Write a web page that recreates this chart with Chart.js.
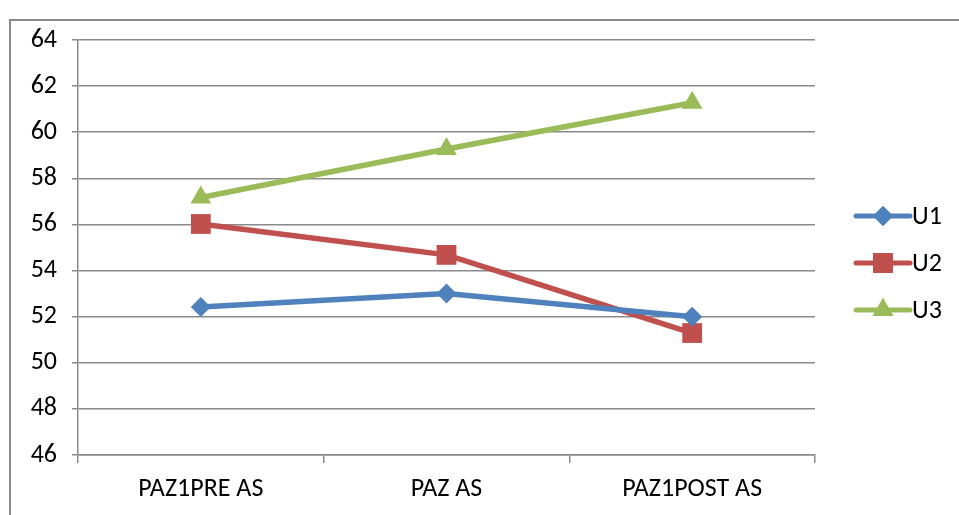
<!DOCTYPE html>
<html>
<head>
<meta charset="utf-8">
<script src="https://cdn.jsdelivr.net/npm/chart.js@4/dist/chart.umd.min.js"></script>
<style>
  html, body { margin: 0; padding: 0; background: #fff; }
  #wrap { position: relative; width: 959px; height: 515px; overflow: hidden; }
  #frame { position: absolute; left: 9px; top: 19px; width: 980px; height: 520px; border: 2px solid #8a8a8a; }
  canvas { position: absolute; left: 0; top: 0; }
</style>
</head>
<body>
<div id="wrap">
  <div id="frame"></div>
  <canvas id="chart" width="959" height="515"></canvas>
</div>
<script>
// data
const categories = ['PAZ1PRE AS', 'PAZ AS', 'PAZ1POST AS'];
const seriesNames = ['U1', 'U2', 'U3'];
const u1 = [52.42, 53.0, 52.0];
const u2 = [56.02, 54.68, 51.29];
const u3 = [57.17, 59.27, 61.28];
const yTicks = [46, 48, 50, 52, 54, 56, 58, 60, 62, 64];

const colors = ['#4F81BD', '#C0504D', '#9BBB59'];
const markers = ['rectRot', 'rect', 'triangle'];
const markerSize = [10, 14, 12];
const gridColor = '#8a8a8a';
const font = { family: 'Carlito, "Liberation Sans", Arial, sans-serif', size: 26 };

// legend on the right: line with marker in the middle, then the name
const sideLegend = {
    id: 'sideLegend',
    afterDraw(chart) {
        const ctx = chart.ctx;
        const x0 = 856, x1 = 910, ys = [216, 263, 310];
        chart.data.datasets.forEach((ds, i) => {
            const y = ys[i];
            ctx.save();
            ctx.strokeStyle = ds.borderColor;
            ctx.lineWidth = 5;
            ctx.lineCap = 'round';
            ctx.beginPath();
            ctx.moveTo(x0, y);
            ctx.lineTo(x1, y);
            ctx.stroke();
            ctx.fillStyle = ds.pointBackgroundColor;
            Chart.helpers.drawPoint(ctx, {
                pointStyle: ds.pointStyle,
                radius: ds.pointRadius,
                rotation: 0,
                borderWidth: 0
            }, (x0 + x1) / 2, y);
            ctx.fill();
            ctx.fillStyle = '#000';
            ctx.font = font.size + 'px ' + font.family;
            ctx.textBaseline = 'middle';
            ctx.fillText(ds.label, x1 + 2, y + 1);
            ctx.restore();
        });
    }
};

const datasets = [u1, u2, u3].map((values, i) => ({
    label: seriesNames[i],
    data: values,
    borderColor: colors[i],
    backgroundColor: colors[i],
    pointBackgroundColor: colors[i],
    pointBorderColor: colors[i],
    pointBorderWidth: 0,
    pointStyle: markers[i],
    pointRadius: markerSize[i],
    pointHoverRadius: markerSize[i],
    borderWidth: 5.5,
    tension: 0
}));

new Chart(document.getElementById('chart'), {
    type: 'line',
    data: { labels: categories, datasets: datasets },
    options: {
        responsive: false,
        animation: false,
        layout: { padding: { left: 0, top: 40, right: 144, bottom: 0 } },
        plugins: {
            legend: { display: false },
            tooltip: { enabled: false }
        },
        scales: {
            x: {
                offset: true,
                grid: {
                    offset: true,
                    drawOnChartArea: false,
                    drawTicks: true,
                    tickLength: 8,
                    color: gridColor,
                    lineWidth: 1.5
                },
                border: { color: gridColor, width: 1.5 },
                ticks: { color: '#000', font: font, padding: 11, maxRotation: 0 },
                afterFit(scale) { scale.height = 60; }
            },
            y: {
                min: 46,
                max: 64,
                afterBuildTicks(scale) { scale.ticks = yTicks.map(v => ({ value: v })); },
                grid: {
                    color: gridColor,
                    lineWidth: 1.5,
                    drawTicks: true,
                    tickLength: 6
                },
                border: { color: gridColor, width: 1.5 },
                ticks: { color: '#000', font: font, padding: 15 },
                afterFit(scale) { scale.width = 78; }
            }
        }
    },
    plugins: [sideLegend]
});
</script>
</body>
</html>
